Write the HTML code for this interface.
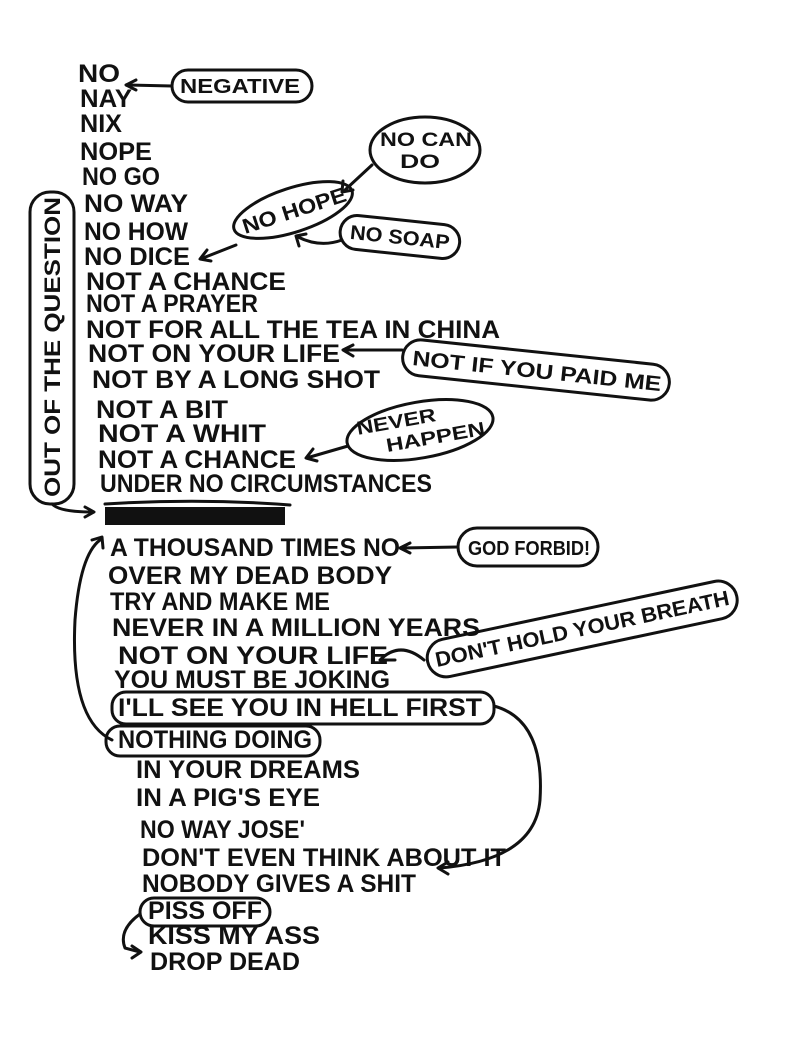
<!DOCTYPE html>
<html><head><meta charset="utf-8"><style>
html,body{margin:0;padding:0;background:#fff;}
svg{display:block}
text{font-family:"Liberation Sans",sans-serif;font-weight:bold;font-size:25px;fill:#111;}
.s{fill:none;stroke:#111;stroke-width:3;stroke-linecap:round;stroke-linejoin:round}
</style></head><body>
<svg width="800" height="1049" viewBox="0 0 800 1049">
<rect width="800" height="1049" fill="#fff"/>
<g>
<text x="78" y="82" textLength="42" lengthAdjust="spacingAndGlyphs">NO</text>
<text x="80" y="107" textLength="52" lengthAdjust="spacingAndGlyphs">NAY</text>
<text x="80" y="132" textLength="42" lengthAdjust="spacingAndGlyphs">NIX</text>
<text x="80" y="160" textLength="72" lengthAdjust="spacingAndGlyphs">NOPE</text>
<text x="82" y="185" textLength="78" lengthAdjust="spacingAndGlyphs">NO GO</text>
<text x="84" y="212" textLength="104" lengthAdjust="spacingAndGlyphs">NO WAY</text>
<text x="84" y="240" textLength="104" lengthAdjust="spacingAndGlyphs">NO HOW</text>
<text x="84" y="265" textLength="106" lengthAdjust="spacingAndGlyphs">NO DICE</text>
<text x="86" y="290" textLength="200" lengthAdjust="spacingAndGlyphs">NOT A CHANCE</text>
<text x="86" y="312" textLength="172" lengthAdjust="spacingAndGlyphs">NOT A PRAYER</text>
<text x="86" y="338" textLength="414" lengthAdjust="spacingAndGlyphs">NOT FOR ALL THE TEA IN CHINA</text>
<text x="88" y="362" textLength="252" lengthAdjust="spacingAndGlyphs">NOT ON YOUR LIFE</text>
<text x="92" y="388" textLength="288" lengthAdjust="spacingAndGlyphs">NOT BY A LONG SHOT</text>
<text x="96" y="418" textLength="132" lengthAdjust="spacingAndGlyphs">NOT A BIT</text>
<text x="98" y="442" textLength="168" lengthAdjust="spacingAndGlyphs">NOT A WHIT</text>
<text x="98" y="468" textLength="198" lengthAdjust="spacingAndGlyphs">NOT A CHANCE</text>
<text x="100" y="492" textLength="332" lengthAdjust="spacingAndGlyphs">UNDER NO CIRCUMSTANCES</text>
<text x="110" y="556" textLength="290" lengthAdjust="spacingAndGlyphs">A THOUSAND TIMES NO</text>
<text x="108" y="584" textLength="284" lengthAdjust="spacingAndGlyphs">OVER MY DEAD BODY</text>
<text x="110" y="610" textLength="220" lengthAdjust="spacingAndGlyphs">TRY AND MAKE ME</text>
<text x="112" y="636" textLength="368" lengthAdjust="spacingAndGlyphs">NEVER IN A MILLION YEARS</text>
<text x="118" y="664" textLength="270" lengthAdjust="spacingAndGlyphs">NOT ON YOUR LIFE</text>
<text x="114" y="688" textLength="276" lengthAdjust="spacingAndGlyphs">YOU MUST BE JOKING</text>
<text x="118" y="716" textLength="364" lengthAdjust="spacingAndGlyphs">I'LL SEE YOU IN HELL FIRST</text>
<text x="118" y="748" textLength="194" lengthAdjust="spacingAndGlyphs">NOTHING DOING</text>
<text x="136" y="778" textLength="224" lengthAdjust="spacingAndGlyphs">IN YOUR DREAMS</text>
<text x="136" y="806" textLength="184" lengthAdjust="spacingAndGlyphs">IN A PIG'S EYE</text>
<text x="140" y="838" textLength="165" lengthAdjust="spacingAndGlyphs">NO WAY JOSE'</text>
<text x="142" y="866" textLength="364" lengthAdjust="spacingAndGlyphs">DON'T EVEN THINK ABOUT IT</text>
<text x="142" y="892" textLength="274" lengthAdjust="spacingAndGlyphs">NOBODY GIVES A SHIT</text>
<text x="148" y="919" textLength="114" lengthAdjust="spacingAndGlyphs">PISS OFF</text>
<text x="148" y="944" textLength="172" lengthAdjust="spacingAndGlyphs">KISS MY ASS</text>
<text x="150" y="970" textLength="150" lengthAdjust="spacingAndGlyphs">DROP DEAD</text>

<text x="180" y="93" textLength="120" lengthAdjust="spacingAndGlyphs" style="font-size:20px">NEGATIVE</text>
<rect x="172" y="70" width="140" height="32" rx="16" class="s"/>
<text x="380" y="146" textLength="92" lengthAdjust="spacingAndGlyphs" style="font-size:19px">NO CAN</text>
<text x="400" y="168" textLength="40" lengthAdjust="spacingAndGlyphs" style="font-size:19px">DO</text>
<ellipse cx="425" cy="150" rx="55" ry="33" class="s"/>
<g transform="rotate(-18 293 210)">
<text x="240" y="218" textLength="108" lengthAdjust="spacingAndGlyphs" style="font-size:21px">NO HOPE</text>
<ellipse cx="293" cy="210" rx="62" ry="22" class="s"/>
</g>
<g transform="rotate(6 400 236)">
<text x="350" y="244" textLength="100" lengthAdjust="spacingAndGlyphs" style="font-size:20px">NO SOAP</text>
<rect x="340" y="220" width="120" height="34" rx="17" class="s"/>
</g>
<g transform="rotate(6 536 370)">
<text x="412" y="378" textLength="250" lengthAdjust="spacingAndGlyphs" style="font-size:21px">NOT IF YOU PAID ME</text>
<rect x="402" y="352" width="268" height="36" rx="18" class="s"/>
</g>
<g transform="rotate(-10 420 430)">
<text x="358" y="424" textLength="80" lengthAdjust="spacingAndGlyphs" style="font-size:19px">NEVER</text>
<text x="384" y="446" textLength="100" lengthAdjust="spacingAndGlyphs" style="font-size:19px">HAPPEN</text>
<ellipse cx="420" cy="430" rx="74" ry="28" class="s"/>
</g>
<text x="468" y="555" textLength="122" lengthAdjust="spacingAndGlyphs" style="font-size:20px">GOD FORBID!</text>
<rect x="458" y="528" width="140" height="38" rx="19" class="s"/>
<g transform="rotate(-12 582 628)">
<text x="432" y="636" textLength="300" lengthAdjust="spacingAndGlyphs" style="font-size:21px">DON'T HOLD YOUR BREATH</text>
<rect x="424" y="610" width="316" height="38" rx="19" class="s"/>
</g>
<g transform="rotate(-90 52 345)">
<text x="-100" y="353" textLength="300" lengthAdjust="spacingAndGlyphs" style="font-size:22px">OUT OF THE QUESTION</text>
</g>
<rect x="30" y="192" width="44" height="312" rx="20" class="s"/>
<rect x="112" y="692" width="382" height="32" rx="14" class="s"/>
<rect x="106" y="726" width="214" height="30" rx="14" class="s"/>
<rect x="140" y="898" width="130" height="28" rx="14" class="s"/>

<rect x="105" y="507" width="180" height="18" fill="#111"/>
<path d="M105 504 Q200 498 290 505" class="s"/>

<path d="M172 86 L128 85" class="s"/><path d="M136 80 L126 85 L136 90" class="s"/>
<path d="M372 165 L345 190" class="s"/><path d="M343 181 L342 192 L353 190" class="s"/>
<path d="M236 245 L203 258" class="s"/><path d="M207 250 L200 259 L211 261" class="s"/>
<path d="M342 240 Q320 248 298 237" class="s"/><path d="M299 246 L296 236 L306 234" class="s"/>
<path d="M402 350 L345 350" class="s"/><path d="M353 345 L343 350 L353 356" class="s"/>
<path d="M348 446 L310 457" class="s"/><path d="M313 449 L306 458 L317 461" class="s"/>
<path d="M458 547 L402 548" class="s"/><path d="M410 543 L400 548 L410 553" class="s"/>
<path d="M424 660 Q400 640 380 660 L395 660" class="s"/>
<path d="M52 504 Q60 512 92 512" class="s"/><path d="M85 507 L94 512 L85 517" class="s"/>
<path d="M112 740 Q70 720 75 620 Q80 555 100 540" class="s"/><path d="M92 540 L102 537 L103 548" class="s"/>
<path d="M494 706 Q545 720 540 800 Q535 860 440 868" class="s"/><path d="M448 862 L438 868 L448 874" class="s"/>
<path d="M140 914 Q118 930 125 948 L140 952" class="s"/><path d="M132 946 L141 952 L132 958" class="s"/>
</g>
</svg>
</body></html>
